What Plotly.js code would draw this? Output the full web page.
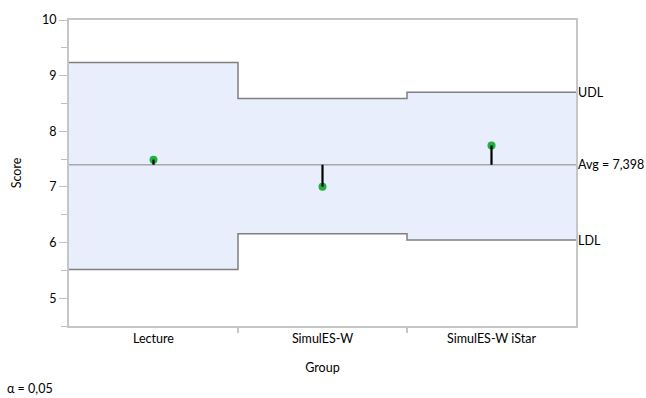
<!DOCTYPE html>
<html>
<head>
<meta charset="utf-8">
<script src="https://cdn.plot.ly/plotly-3.0.1.min.js"></script>
<style>html,body{margin:0;padding:0;background:#fff;}#chart{width:646px;height:398px;}</style>
</head>
<body>
<div id="chart"></div>
<script>
var groups = ["Lecture", "SimulES-W", "SimulES-W iStar"];
var groupMeans = [7.49, 7.005, 7.745];
var upperLimits = [9.234, 8.59, 8.70];
var lowerLimits = [5.517, 6.16, 6.045];
var overallAvg = 7.398;
var avgLabel = "Avg = 7,398";
var alphaLabel = "α = 0,05";

var idx = groups.map(function(_, i){ return i; });
var edges = [-0.5].concat(idx.map(function(i){ return i + 0.5; }));
var stepUpper = upperLimits.concat([upperLimits[upperLimits.length-1]]);
var stepLower = lowerLimits.concat([lowerLimits[lowerLimits.length-1]]);

var needleX = [], needleY = [];
idx.forEach(function(i){ needleX.push(i, i, null); needleY.push(overallAvg, groupMeans[i], null); });

var font = "Lato, 'Open Sans', sans-serif";
var fs = 12.5;
var lineCol = "#7f7f7f";

var traces = [
  {x: edges, y: stepLower, mode: "lines", line: {shape: "hv", color: lineCol, width: 1.5}, hoverinfo: "skip", showlegend: false},
  {x: edges, y: stepUpper, mode: "lines", line: {shape: "hv", color: lineCol, width: 1.5}, fill: "tonexty", fillcolor: "#e8eefb", hoverinfo: "skip", showlegend: false},
  {x: [edges[0], edges[edges.length-1]], y: [overallAvg, overallAvg], mode: "lines", line: {color: "#a8a8a8", width: 1.5}, showlegend: false},
  {x: idx, y: groupMeans, mode: "markers", marker: {color: "#22b040", size: 8}, showlegend: false},
  {x: needleX, y: needleY, mode: "lines", line: {color: "#000", width: 2.2}, showlegend: false},
  {x: [0], y: [overallAvg], xaxis: "x2", mode: "markers", marker: {opacity: 0}, showlegend: false, hoverinfo: "skip"}
];

var layout = {
  width: 646, height: 398,
  margin: {l: 69, r: 70, t: 20, b: 72},
  paper_bgcolor: "#fff", plot_bgcolor: "#fff",
  font: {family: font, size: fs, color: "#000"},
  xaxis: {
    range: [-0.5, 2.5], tickvals: idx, ticktext: groups, ticks: "",
    showgrid: false, zeroline: false, showline: true, mirror: true,
    linecolor: "#c6c6c6", linewidth: 2, fixedrange: true,
    tickfont: {family: font, size: fs},
    title: {text: "Group", font: {family: font, size: fs}, standoff: 18}
  },
  xaxis2: {
    overlaying: "x", matches: "x", range: [-0.5, 2.5], side: "bottom", anchor: "y",
    tickvals: edges.slice(1, -1), showticklabels: false, ticks: "outside", ticklen: 6,
    tickcolor: "#c6c6c6", tickwidth: 1.5, showgrid: false, zeroline: false, showline: false
  },
  yaxis: {
    range: [4.5, 10], dtick: 1, tick0: 0, ticks: "outside", ticklen: 8, tickcolor: "#c0c0c0", tickwidth: 1,
    minor: {dtick: 0.5, ticks: "outside", ticklen: 6, tickcolor: "#c0c0c0", tickwidth: 1, showgrid: false},
    showgrid: false, zeroline: false, showline: true, mirror: true,
    linecolor: "#c6c6c6", linewidth: 2, fixedrange: true,
    tickfont: {family: font, size: fs},
    title: {text: "Score", font: {family: font, size: fs}, standoff: 18}
  },
  annotations: [
    {x: edges[edges.length-1], y: stepUpper[stepUpper.length-1], xref: "x", yref: "y", text: "UDL", showarrow: false, xanchor: "left", xshift: 0, font: {family: font, size: fs}},
    {x: edges[edges.length-1], y: overallAvg, xref: "x", yref: "y", text: avgLabel, showarrow: false, xanchor: "left", xshift: 0, font: {family: font, size: fs}},
    {x: edges[edges.length-1], y: stepLower[stepLower.length-1], xref: "x", yref: "y", text: "LDL", showarrow: false, xanchor: "left", xshift: 0, font: {family: font, size: fs}},
    {x: 0, y: 0, xref: "paper", yref: "paper", text: alphaLabel, showarrow: false, xanchor: "left", yanchor: "middle", xshift: -64, yshift: -62, font: {family: font, size: fs}}
  ]
};

Plotly.newPlot("chart", traces, layout, {displayModeBar: false, staticPlot: true});
</script>
</body>
</html>
